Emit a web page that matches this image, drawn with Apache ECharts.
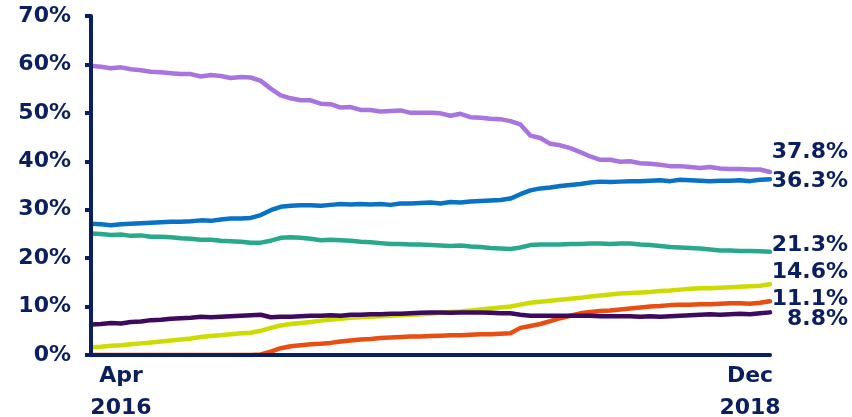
<!DOCTYPE html>
<html>
<head>
<meta charset="utf-8">
<script src="https://cdn.jsdelivr.net/npm/echarts@6/dist/echarts.min.js"></script>
<style>
html,body{margin:0;padding:0;background:#fff;}
#chart{width:852px;height:417px;}
</style>
</head>
<body>
<div id="chart"></div>
<script>
// Half-monthly periods (69 points) from early 2016 to end of 2018
const categories = [];
for (let i = 0; i < 69; i++) categories.push('P' + i);

const xTickIndex = [3, 66];
const xTickLabels = ['Apr\n2016', 'Dec\n2018'];
const yTicks = [0, 10, 20, 30, 40, 50, 60, 70];

const seriesNames = ['Purple', 'Blue', 'Teal', 'YellowGreen', 'Orange', 'DarkPurple'];

const purple = [59.7,59.5,59.2,59.4,59.0,58.8,58.5,58.4,58.2,58.0,58.0,57.5,57.8,57.6,57.2,57.4,57.3,56.6,55.0,53.6,
53.0,52.6,52.6,51.9,51.8,51.1,51.2,50.6,50.6,50.3,50.4,50.5,50.0,50.0,50.0,49.9,49.4,49.8,49.1,49.0,
48.8,48.7,48.3,47.6,45.3,44.8,43.6,43.3,42.7,41.9,41.0,40.3,40.3,39.9,40.0,39.6,39.5,39.3,39.0,39.0,
38.8,38.6,38.8,38.5,38.4,38.4,38.3,38.3,37.8];

const blue = [27.1,27.0,26.8,27.0,27.1,27.2,27.3,27.4,27.5,27.5,27.6,27.8,27.7,28.0,28.2,28.2,28.3,28.9,29.9,30.6,
30.8,30.9,30.9,30.8,31.0,31.2,31.1,31.2,31.1,31.2,31.0,31.3,31.3,31.4,31.5,31.3,31.6,31.5,31.7,31.8,
31.9,32.0,32.3,33.2,34.0,34.4,34.6,34.9,35.1,35.3,35.6,35.8,35.7,35.8,35.9,35.9,36.0,36.1,35.9,36.2,
36.1,36.0,35.9,36.0,36.0,36.1,35.9,36.2,36.3];

const teal = [25.1,25.0,24.8,24.9,24.6,24.7,24.4,24.4,24.3,24.1,24.0,23.8,23.8,23.6,23.5,23.4,23.2,23.2,23.6,24.2,
24.3,24.2,24.0,23.7,23.8,23.7,23.6,23.4,23.3,23.1,22.9,22.9,22.8,22.8,22.7,22.6,22.5,22.6,22.4,22.3,
22.1,22.0,21.9,22.2,22.7,22.8,22.8,22.8,22.9,22.9,23.0,23.0,22.9,23.0,23.0,22.8,22.7,22.5,22.3,22.2,
22.1,22.0,21.8,21.6,21.6,21.5,21.5,21.4,21.3];

const yellowGreen = [1.6,1.7,1.9,2.0,2.2,2.4,2.6,2.8,3.0,3.2,3.4,3.7,3.9,4.1,4.3,4.5,4.6,5.0,5.6,6.1,
6.4,6.6,6.8,7.1,7.3,7.5,7.7,7.8,7.9,8.0,8.1,8.2,8.3,8.4,8.5,8.7,8.9,9.0,9.2,9.4,
9.6,9.8,10.0,10.4,10.8,11.0,11.2,11.4,11.6,11.8,12.1,12.3,12.5,12.7,12.8,12.9,13.0,13.2,13.3,13.5,
13.7,13.8,13.8,13.9,14.0,14.1,14.2,14.3,14.6];

const orange = [0,0,0,0,0,0,0,0,0,0,0,0,0,0,0,0,0,0.1,0.7,1.4,
1.8,2.0,2.2,2.3,2.5,2.8,3.0,3.2,3.3,3.5,3.6,3.7,3.8,3.8,3.9,4.0,4.1,4.1,4.2,4.3,
4.3,4.4,4.5,5.6,6.0,6.4,7.0,7.6,8.1,8.6,8.9,9.1,9.2,9.4,9.6,9.8,10.0,10.1,10.3,10.4,
10.4,10.5,10.5,10.6,10.7,10.7,10.6,10.8,11.1];

const darkPurple = [6.3,6.4,6.6,6.5,6.8,6.9,7.2,7.3,7.5,7.6,7.7,7.9,7.8,7.9,8.0,8.1,8.2,8.3,7.8,7.9,
7.9,8.0,8.1,8.1,8.2,8.1,8.3,8.3,8.4,8.4,8.5,8.5,8.6,8.7,8.8,8.8,8.7,8.8,8.8,8.8,
8.7,8.6,8.6,8.3,8.1,8.1,8.1,8.1,8.1,8.1,8.1,8.0,8.0,8.0,8.0,7.9,8.0,7.9,8.0,8.1,
8.2,8.3,8.4,8.3,8.4,8.5,8.4,8.6,8.8];

const NAVY = '#0b1f5e';
const FONT = 'DejaVu Sans';
const colors = ['#a874e0', '#0a72c4', '#29a98b', '#cddc00', '#e84e12', '#3d0a5e'];
const datas = [purple, blue, teal, yellowGreen, orange, darkPurple];
const labelDy = [-20, 2, -7, -12, -2, 7];

const chart = echarts.init(document.getElementById('chart'), null, {renderer: 'canvas'});
chart.setOption({
  animation: false,
  backgroundColor: '#ffffff',
  grid: {left: 91, right: 82, top: 16, bottom: 62, containLabel: false, outerBoundsMode: 'none'},
  xAxis: {
    type: 'category',
    data: categories,
    boundaryGap: false,
    z: 5,
    axisLine: {show: true, onZero: false, lineStyle: {color: NAVY, width: 4}},
    axisTick: {show: false},
    axisLabel: {
      interval: (idx) => xTickIndex.indexOf(idx) >= 0,
      formatter: (v, idx) => xTickLabels[xTickIndex.indexOf(idx)] || '',
      color: NAVY, fontFamily: FONT, fontWeight: 'bold', fontSize: 22,
      lineHeight: 32, margin: 5, align: 'center'
    },
    splitLine: {show: false}
  },
  yAxis: {
    type: 'value',
    min: yTicks[0], max: yTicks[yTicks.length - 1], interval: 10,
    z: 5,
    axisLine: {show: true, lineStyle: {color: NAVY, width: 4}},
    axisTick: {show: true, length: 6, lineStyle: {color: NAVY, width: 4}},
    axisLabel: {
      formatter: (v) => v + '%',
      color: NAVY, fontFamily: FONT, fontWeight: 'bold', fontSize: 22, margin: 20
    },
    splitLine: {show: false}
  },
  series: datas.map((d, k) => ({
    name: seriesNames[k],
    type: 'line',
    data: d,
    symbol: 'none',
    smooth: false,
    z: 2,
    lineStyle: {color: colors[k], width: 4.5, cap: 'round', join: 'round'},
    itemStyle: {color: colors[k]},
    endLabel: {
      show: true,
      formatter: (p) => Number(p.value).toFixed(1) + '%',
      color: NAVY, fontFamily: FONT, fontWeight: 'bold', fontSize: 22,
      distance: 78, align: 'right', verticalAlign: 'middle',
      offset: [0, labelDy[k]]
    }
  }))
});
</script>
</body>
</html>
